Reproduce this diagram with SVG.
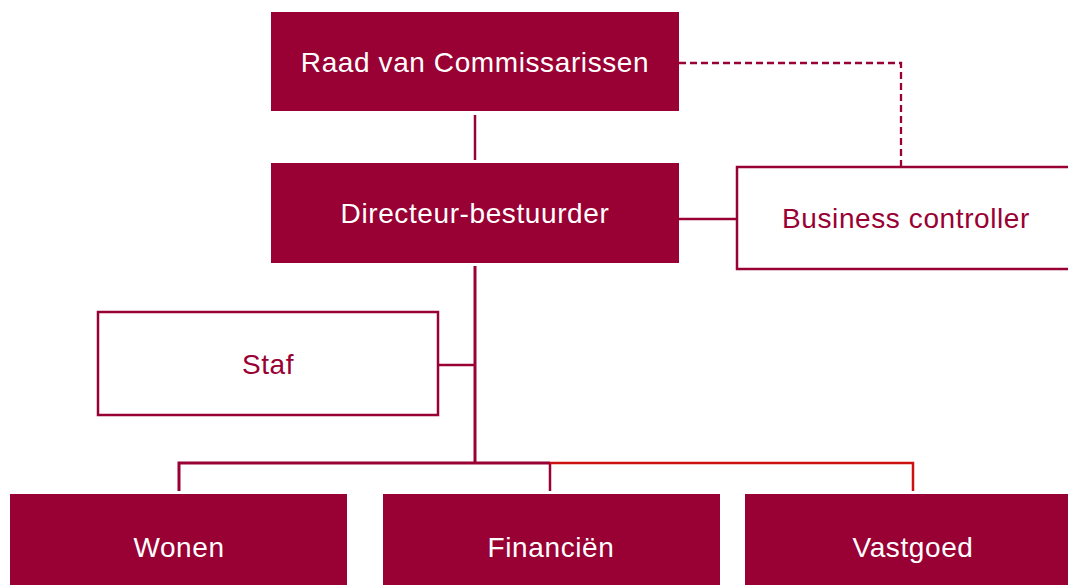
<svg xmlns="http://www.w3.org/2000/svg" width="1068" height="585" viewBox="0 0 1068 585">
  <style>
    .solid { fill: #990033; }
    .outline { fill: #ffffff; stroke: #990033; stroke-width: 2.5; }
    .label { font-family: "Liberation Sans", Arial, sans-serif; font-size: 28px; letter-spacing: 0.6px; text-anchor: middle; }
    .on-solid { fill: #ffffff; }
    .on-outline { fill: #990033; }
    .link { fill: none; stroke: #990033; stroke-width: 2.5; }
    .link-thick { fill: none; stroke: #990033; stroke-width: 3; }
    .link-red { fill: none; stroke: #cc1111; stroke-width: 2.5; }
    .dashed { fill: none; stroke: #990033; stroke-width: 2.3; stroke-dasharray: 7 4; }
  </style>
  <rect width="1068" height="585" fill="#ffffff"/>

  <g id="connectors">
    <!-- supervisory board to director -->
    <line class="link" x1="475" y1="115" x2="475" y2="160"/>
    <!-- dashed line board to business controller -->
    <polyline class="dashed" points="679,63 901,63 901,167"/>
    <!-- director to business controller -->
    <line class="link" x1="679" y1="219" x2="737" y2="219"/>
    <!-- main trunk -->
    <line class="link-thick" x1="475" y1="266" x2="475" y2="463"/>
    <!-- staff branch -->
    <line class="link" x1="438" y1="365" x2="475" y2="365"/>
    <!-- department bus -->
    <polyline class="link-thick" points="179,491 179,463 550,463"/>
    <line class="link" x1="550" y1="463" x2="550" y2="491"/>
    <polyline class="link-red" points="550,463 913,463 913,491"/>
  </g>

  <g id="raad">
    <rect class="solid" x="271" y="12" width="408" height="99"/>
    <text class="label on-solid" x="475" y="72">Raad van Commissarissen</text>
  </g>

  <g id="directeur">
    <rect class="solid" x="271" y="163" width="408" height="100"/>
    <text class="label on-solid" x="475" y="223">Directeur-bestuurder</text>
  </g>

  <g id="business-controller">
    <rect class="outline" x="737" y="167" width="340" height="102"/>
    <text class="label on-outline" x="906" y="228">Business controller</text>
  </g>

  <g id="staf">
    <rect class="outline" x="98" y="312" width="340" height="103"/>
    <text class="label on-outline" x="268" y="374">Staf</text>
  </g>

  <g id="wonen">
    <rect class="solid" x="10" y="494" width="337" height="110"/>
    <text class="label on-solid" x="179" y="557">Wonen</text>
  </g>

  <g id="financien">
    <rect class="solid" x="383" y="494" width="337" height="110"/>
    <text class="label on-solid" x="551" y="557">Financiën</text>
  </g>

  <g id="vastgoed">
    <rect class="solid" x="745" y="494" width="337" height="110"/>
    <text class="label on-solid" x="913" y="557">Vastgoed</text>
  </g>
</svg>
